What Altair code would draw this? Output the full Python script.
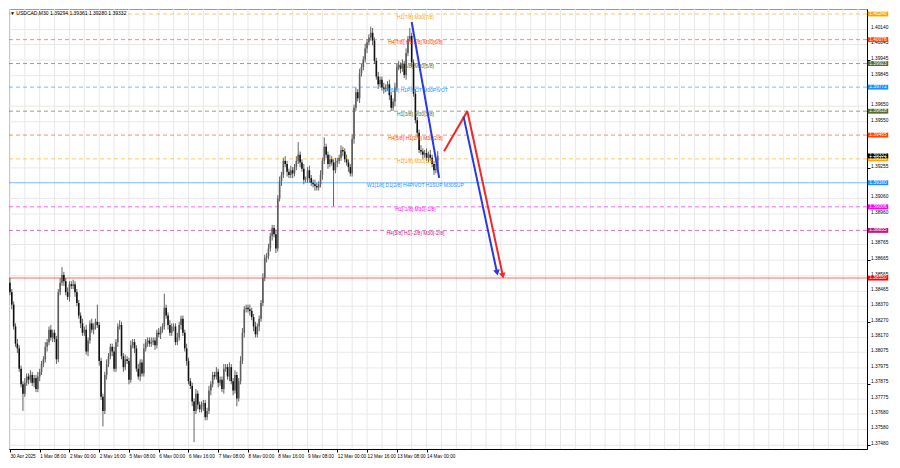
import math
import altair as alt
import pandas as pd

# ---------------- data ----------------
symbol = "USDCAD,M30"
last_bar_ohlc = [1.39294, 1.39361, 1.39280, 1.39332]

first_open = 1.3852
closes = [
    1.3846, 1.3838, 1.3824, 1.3813, 1.3810, 1.3797, 1.3787, 1.3781, 1.3788, 1.3792,
    1.3790, 1.3793, 1.3788, 1.3791, 1.3784, 1.3792, 1.3795, 1.3800, 1.3803, 1.3811,
    1.3814, 1.3822, 1.3817, 1.3820, 1.3816, 1.3803, 1.3846, 1.3852, 1.3857, 1.3853,
    1.3846, 1.3843, 1.3851, 1.3850, 1.3851, 1.3846, 1.3839, 1.3831, 1.3826, 1.3820,
    1.3822, 1.3808, 1.3815, 1.3826, 1.3822, 1.3824, 1.3827, 1.3825, 1.3802, 1.3779,
    1.3770, 1.3793, 1.3800, 1.3805, 1.3811, 1.3808, 1.3797, 1.3814, 1.3824, 1.3825,
    1.3805, 1.3798, 1.3803, 1.3802, 1.3790, 1.3812, 1.3814, 1.3810, 1.3797, 1.3792,
    1.3801, 1.3794, 1.3810, 1.3814, 1.3815, 1.3813, 1.3814, 1.3815, 1.3812, 1.3820,
    1.3819, 1.3822, 1.3824, 1.3836, 1.3831, 1.3825, 1.3820, 1.3824, 1.3824, 1.3814,
    1.3817, 1.3825, 1.3829, 1.3820, 1.3810, 1.3802, 1.3789, 1.3786, 1.3776, 1.3770,
    1.3781, 1.3774, 1.3771, 1.3773, 1.3775, 1.3766, 1.3770, 1.3783, 1.3787, 1.3793,
    1.3792, 1.3795, 1.3788, 1.3790, 1.3784, 1.3797, 1.3798, 1.3792, 1.3798, 1.3789,
    1.3783, 1.3793, 1.3778, 1.3789, 1.3802, 1.3820, 1.3835, 1.3836, 1.3835, 1.3834,
    1.3830, 1.3824, 1.3819, 1.3824, 1.3829, 1.3839, 1.3855, 1.3868, 1.3869, 1.3874,
    1.3882, 1.3887, 1.3883, 1.3874, 1.3906, 1.3917, 1.3921, 1.3930, 1.3928, 1.3923,
    1.3921, 1.3924, 1.3922, 1.3926, 1.3930, 1.3934, 1.3929, 1.3925, 1.3918, 1.3918,
    1.3924, 1.3919, 1.3916, 1.3915, 1.3914, 1.3913, 1.3915, 1.3921, 1.3930, 1.3939,
    1.3934, 1.3928, 1.3931, 1.3929, 1.3924, 1.3929, 1.3930, 1.3932, 1.3937, 1.3936,
    1.3931, 1.3929, 1.3926, 1.3922, 1.3944, 1.3964, 1.3974, 1.3970, 1.3986, 1.3990,
    1.3995, 1.4002, 1.4006, 1.4009, 1.4012, 1.4007, 1.3994, 1.3984, 1.3979, 1.3982,
    1.3977, 1.3976, 1.3977, 1.3979, 1.3972, 1.3964, 1.3968, 1.3977, 1.3990, 1.3991,
    1.3989, 1.3992, 1.3985, 1.3999, 1.4008, 1.4010, 1.3993, 1.3973, 1.3956, 1.3948,
    1.3937, 1.3936, 1.3934, 1.3935, 1.3932, 1.3934, 1.3932, 1.3928, 1.3924, 1.3925, 1.39332,
]
upper_wick_pips = [
    3, 2, 2, 2, 3, 2, 2, 2, 3, 2,
    2, 3, 2, 2, 2, 3, 2, 2, 2, 3,
    2, 2, 3, 2, 2, 2, 2, 3, 5, 2,
    2, 3, 2, 2, 3, 2, 2, 2, 2, 3,
    2, 3, 2, 2, 3, 2, 2, 11, 2, 2,
    2, 2, 3, 2, 2, 2, 3, 2, 2, 3,
    2, 2, 3, 2, 2, 3, 2, 2, 2, 3,
    2, 2, 3, 2, 2, 2, 3, 2, 2, 2,
    3, 2, 2, 9, 2, 2, 3, 2, 2, 2,
    3, 2, 2, 2, 2, 3, 2, 2, 2, 2,
    3, 2, 2, 3, 2, 2, 2, 3, 2, 2,
    2, 3, 2, 2, 2, 3, 2, 2, 3, 2,
    2, 3, 2, 2, 3, 3, 2, 2, 2, 3,
    2, 2, 3, 2, 2, 2, 3, 2, 2, 3,
    2, 2, 2, 3, 2, 3, 2, 2, 3, 2,
    2, 3, 2, 2, 3, 8, 2, 2, 3, 2,
    2, 3, 2, 2, 3, 2, 2, 3, 2, 6,
    2, 2, 3, 2, 2, 3, 2, 2, 3, 2,
    2, 3, 2, 2, 3, 2, 3, 2, 3, 2,
    2, 3, 2, 2, 4, 3, 2, 2, 3, 2,
    2, 3, 2, 2, 3, 2, 2, 3, 2, 3,
    2, 3, 2, 3, 2, 5, 2, 2, 3, 2,
    2, 3, 2, 2, 3, 2, 3, 2, 2, 3, 3,
]
lower_wick_pips = [
    2, 3, 2, 2, 3, 2, 2, 11, 2, 2,
    3, 2, 2, 3, 2, 2, 3, 2, 2, 2,
    3, 2, 2, 3, 2, 3, 2, 2, 2, 3,
    2, 2, 3, 2, 2, 3, 2, 2, 3, 2,
    2, 2, 3, 2, 2, 3, 2, 2, 3, 2,
    10, 2, 3, 2, 2, 3, 2, 2, 3, 2,
    2, 3, 2, 2, 3, 2, 2, 3, 2, 2,
    3, 2, 2, 2, 3, 2, 2, 2, 3, 2,
    2, 3, 2, 2, 2, 3, 2, 2, 3, 2,
    2, 2, 3, 2, 2, 3, 2, 2, 3, 20,
    2, 3, 2, 2, 3, 2, 2, 2, 3, 2,
    2, 2, 3, 2, 2, 3, 2, 2, 3, 2,
    3, 2, 5, 2, 2, 2, 3, 2, 2, 3,
    2, 3, 2, 2, 3, 2, 2, 2, 3, 2,
    2, 3, 2, 3, 2, 2, 3, 2, 2, 3,
    2, 2, 3, 2, 2, 2, 3, 2, 3, 2,
    2, 3, 2, 2, 3, 2, 2, 2, 3, 2,
    2, 3, 2, 2, 23, 2, 3, 2, 2, 3,
    2, 2, 3, 2, 2, 3, 2, 2, 3, 2,
    2, 2, 3, 2, 2, 3, 2, 2, 3, 2,
    2, 3, 2, 2, 3, 2, 2, 3, 2, 2,
    3, 2, 2, 3, 2, 2, 3, 2, 2, 3,
    2, 2, 3, 2, 2, 3, 2, 2, 3, 2, 2,
]

x_labels = ["30 Apr 2025", "1 May 08:00", "2 May 00:00", "2 May 16:00", "5 May 08:00",
            "6 May 00:00", "6 May 16:00", "7 May 08:00", "8 May 00:00", "8 May 16:00",
            "9 May 08:00", "12 May 00:00", "12 May 16:00", "13 May 08:00", "14 May 00:00"]
bars_per_label = 16      # hourly bars between two time labels
bars_per_grid = 8

y_ticks = [1.40140, 1.40045, 1.39945, 1.39845, 1.39650, 1.39550, 1.39255, 1.39060,
           1.38960, 1.38765, 1.38665, 1.38565, 1.38465, 1.38370, 1.38270, 1.38170,
           1.38075, 1.37975, 1.37875, 1.37775, 1.37680, 1.37580, 1.37480]

level_prices = [1.40240, 1.40076, 1.39923, 1.39772, 1.39618, 1.39465, 1.39313,
                1.39160, 1.39006, 1.38855, 1.38550]
level_texts = ["H1[7/8] M30[7/8]", "H4[7/8] H1[6/8] M30[6/8]", "H1[5/8] M30[5/8]",
               "H4[6/8] H1PIVOT M30PIVOT", "H1[3/8] M30[3/8]", "H4[5/8] H1[2/8] M30[2/8]",
               "H1[1/8] M30[1/8]", "W1[1/8] D1[2/8] H4PIVOT H1SUP M30SUP",
               "H1[-1/8] M30[-1/8]", "H4[3/8] H1[-2/8] M30[-2/8]", ""]
level_colors = ["#FFA500", "#FF4500", "#556B2F", "#1E90FF", "#556B2F", "#FF4500",
                "#FFA500", "#1E90FF", "#FF00FF", "#C71585", "#FF0000"]
level_kinds = ["dash", "dash", "dash", "dash", "dash", "dash", "dash",
               "solid", "dash", "dash", "thick"]
level_label_bar = 218

arrow_x0 = [216.0, 233.4, 246.0, 243.9]
arrow_p0 = [1.40189, 1.39361, 1.39614, 1.39583]
arrow_x1 = [230.8, 246.0, 265.0, 261.9]
arrow_p1 = [1.39191, 1.39620, 1.38565, 1.38584]
arrow_colors = ["#2838E8", "#F02828", "#F02828", "#2838E8"]
arrow_heads = [False, False, True, True]

# ---------------- layout ----------------
W, H = 858, 440
x_dom = [-0.5, 460.8]
y_dom = [1.37456, 1.40272]
FONT = "Liberation Sans"

xs = alt.Scale(domain=x_dom, nice=False, zero=False)
ys = alt.Scale(domain=y_dom, nice=False, zero=False)

opens = [first_open] + closes[:-1]
highs = [max(o, c) + u * 0.0001 for o, c, u in zip(opens, closes, upper_wick_pips)]
lows = [min(o, c) - d * 0.0001 for o, c, d in zip(opens, closes, lower_wick_pips)]
candles = pd.DataFrame({"j": list(range(len(closes))), "open": opens, "close": closes,
                        "high": highs, "low": lows})

label_bars = [k * bars_per_label for k in range(len(x_labels))]
label_js = "[" + ",".join("'" + s + "'" for s in x_labels) + "]"

x_axis = alt.Axis(values=label_bars, labelExpr=f"{label_js}[round(datum.value/{bars_per_label})]",
                  labelAlign="left", labelFontSize=4.7, labelFont=FONT, labelColor="black",
                  labelPadding=1, tickSize=3, tickColor="black", domainColor="black",
                  grid=False, labelFlush=False, labelOverlap=False, title=None)
y_axis = alt.Axis(orient="right", values=y_ticks, labels=False, tickSize=3,
                  tickColor="black", domainColor="black", grid=False, title=None)

grid_df = pd.DataFrame({"j": list(range(0, int(x_dom[1]) + 1, bars_per_grid))})
vgrid = alt.Chart(grid_df).mark_rule(color="#e8e8e8", strokeWidth=1).encode(
    x=alt.X("j:Q", scale=xs, title=None))

ticks_df = pd.DataFrame({"price": y_ticks, "lab": [f"{v:.5f}" for v in y_ticks]})
hgrid = alt.Chart(ticks_df).mark_rule(color="#e8e8e8", strokeWidth=1).encode(
    y=alt.Y("price:Q", scale=ys, title=None))
ytext = alt.Chart(ticks_df).mark_text(fontSize=4.8, font=FONT, color="black", align="left",
                                      baseline="middle", dy=-1.2).encode(
    x=alt.value(W + 4), y=alt.Y("price:Q", scale=ys, title=None), text="lab:N")

levels = pd.DataFrame({"price": level_prices, "txt": level_texts, "color": level_colors,
                       "kind": level_kinds, "j": [level_label_bar] * len(level_prices),
                       "lab": [f"{p:.5f}" for p in level_prices]})

dash_rules = alt.Chart(levels).transform_filter("datum.kind == 'dash'").mark_rule(
    strokeDash=[4, 3], strokeWidth=1, opacity=0.6).encode(
    y=alt.Y("price:Q", scale=ys, title=None), color=alt.Color("color:N", scale=None))
solid_rules = alt.Chart(levels).transform_filter("datum.kind == 'solid'").mark_rule(
    strokeWidth=1, opacity=0.6).encode(
    y=alt.Y("price:Q", scale=ys, title=None), color=alt.Color("color:N", scale=None))
thick_rules = alt.Chart(levels).transform_filter("datum.kind == 'thick'").mark_rule(
    strokeWidth=2, opacity=0.3).encode(
    y=alt.Y("price:Q", scale=ys, title=None), color=alt.Color("color:N", scale=None))

wicks = alt.Chart(candles).mark_rule(color="#3a3a3a", strokeWidth=0.8).encode(
    x=alt.X("j:Q", scale=xs, axis=x_axis),
    y=alt.Y("low:Q", scale=ys, axis=y_axis),
    y2="high:Q")
bodies = alt.Chart(candles).mark_rule(strokeWidth=1.6).encode(
    x=alt.X("j:Q", scale=xs, title=None),
    y=alt.Y("open:Q", scale=ys, title=None),
    y2="close:Q",
    color=alt.condition("datum.close >= datum.open", alt.value("#5e5e5e"), alt.value("#111111")))

level_text = alt.Chart(levels).mark_text(fontSize=5, font=FONT, align="center",
                                         baseline="middle", dy=2.5).encode(
    x=alt.X("j:Q", scale=xs, title=None), y=alt.Y("price:Q", scale=ys, title=None),
    text="txt:N", color=alt.Color("color:N", scale=None))

# arrows
px_per_bar = W / (x_dom[1] - x_dom[0])
px_per_price = H / (y_dom[1] - y_dom[0])
angles = []
for a, b, c, d in zip(arrow_x0, arrow_p0, arrow_x1, arrow_p1):
    dx = (c - a) * px_per_bar
    dy = -(d - b) * px_per_price
    angles.append(math.degrees(math.atan2(dx, -dy)) % 360)
arrows = pd.DataFrame({"j": arrow_x0, "p0": arrow_p0, "j1": arrow_x1, "p1": arrow_p1,
                       "color": arrow_colors, "head": arrow_heads, "ang": angles})
arrow_lines = alt.Chart(arrows).mark_rule(strokeWidth=2).encode(
    x=alt.X("j:Q", scale=xs, title=None), x2="j1:Q",
    y=alt.Y("p0:Q", scale=ys, title=None), y2="p1:Q",
    color=alt.Color("color:N", scale=None))
arrow_tips = alt.Chart(arrows).transform_filter("datum.head").mark_point(
    shape="triangle-up", filled=True, size=45, opacity=1, strokeWidth=0).encode(
    x=alt.X("j1:Q", scale=xs, title=None), y=alt.Y("p1:Q", scale=ys, title=None),
    angle=alt.Angle("ang:Q", scale=None), color=alt.Color("color:N", scale=None))

# price boxes on the right axis
boxes_df = pd.concat([levels[["price", "color", "lab"]],
                      pd.DataFrame({"price": [closes[-1]], "color": ["#000000"],
                                    "lab": [f"{closes[-1]:.5f}"]})], ignore_index=True)
box_shape = "M-1,-0.24H1V0.24H-1Z"
boxes = alt.Chart(boxes_df).mark_point(shape=box_shape, filled=True, size=420,
                                       opacity=1, strokeWidth=0).encode(
    x=alt.value(W + 11), y=alt.Y("price:Q", scale=ys, title=None),
    color=alt.Color("color:N", scale=None))
box_text = alt.Chart(boxes_df).mark_text(fontSize=4.8, font=FONT, color="white",
                                         align="center", baseline="middle").encode(
    x=alt.value(W + 11), y=alt.Y("price:Q", scale=ys, title=None), text="lab:N")

title_df = pd.DataFrame({"t": ["\u25BC " + symbol + "  " + " ".join(f"{v:.5f}" for v in last_bar_ohlc)]})
title = alt.Chart(title_df).mark_text(fontSize=5, font=FONT, color="black", align="left",
                                      baseline="top").encode(
    x=alt.value(1), y=alt.value(2), text="t:N")

chart = alt.layer(
    vgrid, hgrid, wicks, dash_rules, solid_rules, thick_rules, bodies, level_text,
    arrow_lines, arrow_tips, ytext, boxes, box_text, title
).properties(width=W, height=H, padding=0, background="white").configure_view(
    stroke="#9a9a9a", strokeWidth=1)

chart.save("out.html", embed_options={"renderer": "svg", "actions": False})
